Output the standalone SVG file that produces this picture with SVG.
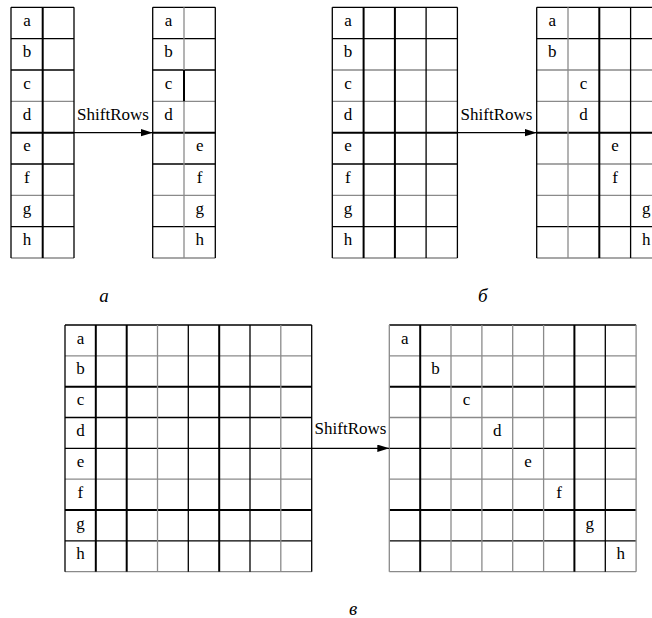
<svg xmlns="http://www.w3.org/2000/svg" width="652" height="618" viewBox="0 0 652 618">
<style>
.k{stroke:#000;stroke-width:1.3;fill:none}
.kk{stroke:#000;stroke-width:2;fill:none}
.g{stroke:#8a8a8a;stroke-width:1.3;fill:none}
.bg{fill:#fff}
text{font-family:"Liberation Serif","Times New Roman",serif;font-size:17px;fill:#000}
.c{text-anchor:middle}
.cap{font-style:italic;font-size:19px;text-anchor:middle}
.arr{stroke:#000;stroke-width:1.2;fill:none;marker-end:url(#ah)}
</style>
<defs>
<marker id="ah" markerUnits="userSpaceOnUse" markerWidth="13" markerHeight="8" refX="12" refY="3.75" orient="auto">
<path d="M0,0 L12,3.75 L0,7.5 z" fill="#000"/>
</marker>
</defs>
<rect width="652" height="618" fill="#fff"/>

<g id="gridA1">
<rect class="bg" x="11" y="7.3" width="63" height="250.7"/>
<line class="k" x1="11" y1="7.3" x2="74" y2="7.3"/>
<line class="k" x1="11" y1="38.6" x2="74" y2="38.6"/>
<line class="k" x1="11" y1="70" x2="74" y2="70"/>
<line class="g" x1="11" y1="101.3" x2="74" y2="101.3"/>
<line class="kk" x1="11" y1="132.7" x2="74" y2="132.7"/>
<line class="k" x1="11" y1="164" x2="74" y2="164"/>
<line class="g" x1="11" y1="195.4" x2="74" y2="195.4"/>
<line class="k" x1="11" y1="226.7" x2="74" y2="226.7"/>
<line class="g" x1="11" y1="258" x2="74" y2="258"/>
<line class="k" x1="11" y1="7.3" x2="11" y2="258"/>
<line class="kk" x1="42.7" y1="7.3" x2="42.7" y2="258"/>
<line class="k" x1="74" y1="7.3" x2="74" y2="258"/>
<text class="c" x="26.9" y="26">a</text>
<text class="c" x="26.9" y="57.3">b</text>
<text class="c" x="26.9" y="88.7">c</text>
<text class="c" x="26.9" y="120">d</text>
<text class="c" x="26.9" y="151.4">e</text>
<text class="c" x="26.9" y="182.7">f</text>
<text class="c" x="26.9" y="214.1">g</text>
<text class="c" x="26.9" y="245.4">h</text>
</g>

<g id="gridA2">
<rect class="bg" x="152.7" y="7.3" width="62.6" height="250.7"/>
<line class="k" x1="152.7" y1="7.3" x2="215.3" y2="7.3"/>
<line class="k" x1="152.7" y1="38.6" x2="215.3" y2="38.6"/>
<line class="k" x1="152.7" y1="70" x2="215.3" y2="70"/>
<line class="g" x1="152.7" y1="101.3" x2="215.3" y2="101.3"/>
<line class="kk" x1="152.7" y1="132.7" x2="215.3" y2="132.7"/>
<line class="k" x1="152.7" y1="164" x2="215.3" y2="164"/>
<line class="g" x1="152.7" y1="195.4" x2="215.3" y2="195.4"/>
<line class="k" x1="152.7" y1="226.7" x2="215.3" y2="226.7"/>
<line class="g" x1="152.7" y1="258" x2="215.3" y2="258"/>
<line class="k" x1="152.7" y1="7.3" x2="152.7" y2="258"/>
<line class="g" x1="184" y1="7.3" x2="184" y2="258"/>
<line class="kk" x1="184" y1="70" x2="184" y2="101.3"/>
<line class="k" x1="215.3" y1="7.3" x2="215.3" y2="258"/>
<text class="c" x="168.4" y="26">a</text>
<text class="c" x="168.4" y="57.3">b</text>
<text class="c" x="168.4" y="88.7">c</text>
<text class="c" x="168.4" y="120">d</text>
<text class="c" x="199.7" y="151.4">e</text>
<text class="c" x="199.7" y="182.7">f</text>
<text class="c" x="199.7" y="214.1">g</text>
<text class="c" x="199.7" y="245.4">h</text>
</g>

<g id="gridB1">
<rect class="bg" x="332.3" y="7.3" width="125.1" height="250.7"/>
<line class="k" x1="332.3" y1="7.3" x2="457.4" y2="7.3"/>
<line class="k" x1="332.3" y1="38.6" x2="457.4" y2="38.6"/>
<line class="g" x1="332.3" y1="70" x2="457.4" y2="70"/>
<line class="g" x1="332.3" y1="101.3" x2="457.4" y2="101.3"/>
<line class="kk" x1="332.3" y1="132.7" x2="457.4" y2="132.7"/>
<line class="k" x1="332.3" y1="164" x2="457.4" y2="164"/>
<line class="g" x1="332.3" y1="195.4" x2="457.4" y2="195.4"/>
<line class="k" x1="332.3" y1="226.7" x2="457.4" y2="226.7"/>
<line class="g" x1="332.3" y1="258" x2="457.4" y2="258"/>
<line class="k" x1="332.3" y1="7.3" x2="332.3" y2="258"/>
<line class="kk" x1="363.6" y1="7.3" x2="363.6" y2="258"/>
<line class="kk" x1="394.9" y1="7.3" x2="394.9" y2="258"/>
<line class="k" x1="426.1" y1="7.3" x2="426.1" y2="258"/>
<line class="k" x1="457.4" y1="7.3" x2="457.4" y2="258"/>
<text class="c" x="347.9" y="26">a</text>
<text class="c" x="347.9" y="57.3">b</text>
<text class="c" x="347.9" y="88.7">c</text>
<text class="c" x="347.9" y="120">d</text>
<text class="c" x="347.9" y="151.4">e</text>
<text class="c" x="347.9" y="182.7">f</text>
<text class="c" x="347.9" y="214.1">g</text>
<text class="c" x="347.9" y="245.4">h</text>
</g>

<g id="gridB2">
<rect class="bg" x="536.7" y="7.3" width="125.2" height="250.7"/>
<line class="k" x1="536.7" y1="7.3" x2="661.9" y2="7.3"/>
<line class="k" x1="536.7" y1="38.6" x2="661.9" y2="38.6"/>
<line class="g" x1="536.7" y1="70" x2="661.9" y2="70"/>
<line class="g" x1="536.7" y1="101.3" x2="661.9" y2="101.3"/>
<line class="kk" x1="536.7" y1="132.7" x2="661.9" y2="132.7"/>
<line class="g" x1="536.7" y1="164" x2="661.9" y2="164"/>
<line class="g" x1="536.7" y1="195.4" x2="661.9" y2="195.4"/>
<line class="k" x1="536.7" y1="226.7" x2="661.9" y2="226.7"/>
<line class="g" x1="536.7" y1="258" x2="661.9" y2="258"/>
<line class="k" x1="536.7" y1="7.3" x2="536.7" y2="258"/>
<line class="g" x1="568" y1="7.3" x2="568" y2="258"/>
<line class="kk" x1="599.3" y1="7.3" x2="599.3" y2="258"/>
<line class="k" x1="630.6" y1="7.3" x2="630.6" y2="258"/>
<text class="c" x="552.3" y="26">a</text>
<text class="c" x="552.3" y="57.3">b</text>
<text class="c" x="583.6" y="88.7">c</text>
<text class="c" x="583.6" y="120">d</text>
<text class="c" x="615" y="151.4">e</text>
<text class="c" x="615" y="182.7">f</text>
<text class="c" x="646.3" y="214.1">g</text>
<text class="c" x="646.3" y="245.4">h</text>
</g>

<g id="gridC1">
<rect class="bg" x="65" y="325" width="246.7" height="246.7"/>
<line class="k" x1="65" y1="325" x2="311.7" y2="325"/>
<line class="g" x1="65" y1="355.8" x2="311.7" y2="355.8"/>
<line class="kk" x1="65" y1="386.7" x2="311.7" y2="386.7"/>
<line class="k" x1="65" y1="417.5" x2="311.7" y2="417.5"/>
<line class="k" x1="65" y1="448.3" x2="311.7" y2="448.3"/>
<line class="g" x1="65" y1="479.2" x2="311.7" y2="479.2"/>
<line class="kk" x1="65" y1="510" x2="311.7" y2="510"/>
<line class="k" x1="65" y1="540.8" x2="311.7" y2="540.8"/>
<line class="g" x1="65" y1="571.7" x2="311.7" y2="571.7"/>
<line class="k" x1="65" y1="325" x2="65" y2="571.7"/>
<line class="kk" x1="95.8" y1="325" x2="95.8" y2="571.7"/>
<line class="kk" x1="126.7" y1="325" x2="126.7" y2="571.7"/>
<line class="g" x1="157.5" y1="325" x2="157.5" y2="571.7"/>
<line class="k" x1="188.3" y1="325" x2="188.3" y2="571.7"/>
<line class="kk" x1="219.2" y1="325" x2="219.2" y2="571.7"/>
<line class="k" x1="250" y1="325" x2="250" y2="571.7"/>
<line class="g" x1="280.8" y1="325" x2="280.8" y2="571.7"/>
<line class="k" x1="311.7" y1="325" x2="311.7" y2="571.7"/>
<text class="c" x="80.4" y="343.5">a</text>
<text class="c" x="80.4" y="374.3">b</text>
<text class="c" x="80.4" y="405.2">c</text>
<text class="c" x="80.4" y="436">d</text>
<text class="c" x="80.4" y="466.8">e</text>
<text class="c" x="80.4" y="497.7">f</text>
<text class="c" x="80.4" y="528.5">g</text>
<text class="c" x="80.4" y="559.3">h</text>
</g>

<g id="gridC2">
<rect class="bg" x="389.3" y="325" width="246.8" height="246.7"/>
<line class="k" x1="389.3" y1="325" x2="636.1" y2="325"/>
<line class="g" x1="389.3" y1="355.8" x2="636.1" y2="355.8"/>
<line class="kk" x1="389.3" y1="386.7" x2="636.1" y2="386.7"/>
<line class="g" x1="389.3" y1="417.5" x2="636.1" y2="417.5"/>
<line class="k" x1="389.3" y1="448.3" x2="636.1" y2="448.3"/>
<line class="g" x1="389.3" y1="479.2" x2="636.1" y2="479.2"/>
<line class="kk" x1="389.3" y1="510" x2="636.1" y2="510"/>
<line class="k" x1="389.3" y1="540.8" x2="636.1" y2="540.8"/>
<line class="g" x1="389.3" y1="571.7" x2="636.1" y2="571.7"/>
<line class="g" x1="389.3" y1="325" x2="389.3" y2="571.7"/>
<line class="kk" x1="420.2" y1="325" x2="420.2" y2="571.7"/>
<line class="g" x1="451" y1="325" x2="451" y2="571.7"/>
<line class="g" x1="481.9" y1="325" x2="481.9" y2="571.7"/>
<line class="g" x1="512.7" y1="325" x2="512.7" y2="571.7"/>
<line class="g" x1="543.6" y1="325" x2="543.6" y2="571.7"/>
<line class="kk" x1="574.4" y1="325" x2="574.4" y2="571.7"/>
<line class="k" x1="605.3" y1="325" x2="605.3" y2="571.7"/>
<line class="g" x1="636.1" y1="325" x2="636.1" y2="571.7"/>
<text class="c" x="404.7" y="343.5">a</text>
<text class="c" x="435.6" y="374.3">b</text>
<text class="c" x="466.4" y="405.2">c</text>
<text class="c" x="497.3" y="436">d</text>
<text class="c" x="528.1" y="466.8">e</text>
<text class="c" x="559" y="497.7">f</text>
<text class="c" x="589.8" y="528.5">g</text>
<text class="c" x="620.7" y="559.3">h</text>
</g>

<g id="connectors">
<line class="arr" x1="74" y1="132.7" x2="152.7" y2="132.7"/>
<text class="c" x="113" y="120">ShiftRows</text>
<line class="arr" x1="457.4" y1="132.7" x2="536.7" y2="132.7"/>
<text class="c" x="496.5" y="120">ShiftRows</text>
<line class="arr" x1="311.7" y1="448.3" x2="389.3" y2="448.3"/>
<text class="c" x="350.5" y="434">ShiftRows</text>
</g>

<g id="captions">
<text class="cap" x="104" y="301.5">а</text>
<text class="cap" x="482.7" y="301.5">б</text>
<text class="cap" x="353" y="615">в</text>
</g>
</svg>
